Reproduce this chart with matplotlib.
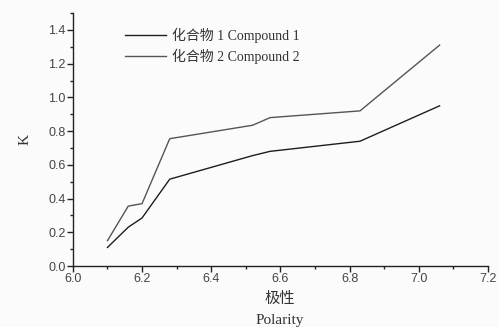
import numpy as np
import matplotlib
matplotlib.use("Agg")
from matplotlib import pyplot as plt
from matplotlib.ticker import MultipleLocator

# values
polarity = [6.10, 6.16, 6.20, 6.28, 6.52, 6.57, 6.83, 7.06]
k_compound1 = [0.11, 0.23, 0.285, 0.515, 0.655, 0.68, 0.74, 0.95]
k_compound2 = [0.15, 0.355, 0.37, 0.755, 0.835, 0.88, 0.92, 1.31]
labels = ["化合物 1 Compound 1", "化合物 2 Compound 2"]
x_ticks = [6.0, 6.2, 6.4, 6.6, 6.8, 7.0, 7.2]
y_ticks = [0.0, 0.2, 0.4, 0.6, 0.8, 1.0, 1.2, 1.4]

serif = ["Liberation Serif", "Noto Sans CJK SC"]
sans = ["Liberation Sans", "DejaVu Sans"]

fig = plt.figure(figsize=(4.99, 3.27), dpi=100, facecolor="#fbfbfb")
ax = fig.add_axes([0.146, 0.1865, 0.832, 0.7735])
ax.set_facecolor("#fbfbfb")

ax.plot(polarity, k_compound1, color="#1e1e1e", lw=1.0, label=labels[0])
ax.plot(polarity, k_compound2, color="#555555", lw=1.0, label=labels[1])

ax.set_xlim(6.0, 7.2)
ax.set_ylim(0.0, 1.5)
ax.set_xticks(x_ticks)
ax.set_xticklabels([f"{v:.1f}" for v in x_ticks])
ax.set_yticks(y_ticks)
ax.set_yticklabels([f"{v:.1f}" for v in y_ticks])
ax.xaxis.set_minor_locator(MultipleLocator(0.1))
ax.yaxis.set_minor_locator(MultipleLocator(0.1))

for s in ["top", "right"]:
    ax.spines[s].set_visible(False)
for s in ["left", "bottom"]:
    ax.spines[s].set_color("#222222")
    ax.spines[s].set_linewidth(1.0)

ax.tick_params(which="major", direction="out", length=4, width=1, colors="#222222",
               labelsize=9, pad=1)
ax.tick_params(which="minor", direction="out", length=2.5, width=1, colors="#222222")
for t in ax.get_xticklabels() + ax.get_yticklabels():
    t.set_family(sans)
    t.set_color("#444444")

ax.set_ylabel("K", family=serif, fontsize=11, color="#333333", labelpad=12)
fig.text(0.561, 0.085, "极性", family=serif, fontsize=11, color="#333333",
         ha="center", va="center")
fig.text(0.561, 0.02, "Polarity", family=serif, fontsize=11, color="#333333",
         ha="center", va="center")

leg = ax.legend(loc="upper left", bbox_to_anchor=(0.095, 0.99), frameon=False,
                prop={"family": serif, "size": 10}, handlelength=3.0,
                handletextpad=0.4, labelspacing=0.4)
for t in leg.get_texts():
    t.set_color("#333333")

fig.savefig("out.png", dpi=100, facecolor=fig.get_facecolor())
